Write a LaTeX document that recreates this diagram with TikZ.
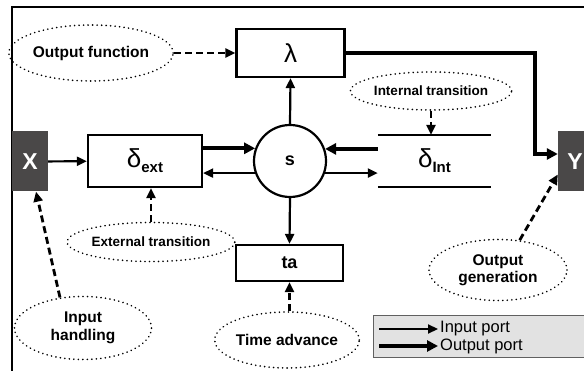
\documentclass[tikz,border=0pt]{standalone}
\usepackage{fontspec}
\setmainfont{Liberation Sans}
\usetikzlibrary{arrows.meta,shapes.geometric}
\definecolor{portgray}{RGB}{74,72,72}
\definecolor{legendfill}{RGB}{226,226,226}
\definecolor{legendedge}{RGB}{96,96,96}
\begin{document}
\begin{tikzpicture}[x=1pt,y=-1pt,
  box/.style={draw, line width=2.2pt, inner sep=0pt},
  port/.style={fill=portgray, inner sep=0pt, text=white,
    font=\bfseries\fontsize{23}{25}\selectfont},
  inarrow/.style={line width=2.2pt, -{Triangle[length=10pt,width=9pt]}},
  outarrow/.style={line width=4.2pt, -{Triangle[length=11pt,width=11pt]}},
  note/.style={ellipse, draw, line width=1.8pt, line cap=round,
    dash pattern=on 0.01pt off 4.5pt, inner sep=0pt, align=center,
    font=\bfseries\fontsize{15.5}{17.5}\selectfont},
  smallnote/.style={note, font=\bfseries\fontsize{13.5}{15}\selectfont},
  notearrow/.style={line width=2.8pt, dash pattern=on 7pt off 4pt,
    -{Triangle[length=10pt,width=9pt]}}
]
\useasboundingbox (0,0) rectangle (584,371);

% outer frame (only top and left edges are in view)
\coordinate (frameTR) at (600,7);
\coordinate (frameTL) at (12,7);
\coordinate (frameBL) at (12,380);
\draw[line width=2.6pt] (frameTR) -- (frameTL) -- (frameBL);

% ports
\node[port, minimum width=36, minimum height=60] (X) at (30,161.5) {X};
\node[port, minimum width=34, minimum height=60] (Y) at (575,161.5) {Y};

% model functions
\node[box, minimum width=114, minimum height=52] (dext) at (145,161)
  {\fontsize{26}{28}\selectfont δ\raisebox{-5pt}{\bfseries\fontsize{15}{17}\selectfont ext}};
\node[box, minimum width=108, minimum height=48] (lam) at (290.5,53)
  {\fontsize{26}{28}\selectfont λ};
\node[box, circle, minimum size=72] (s) at (290,161)
  {\bfseries\fontsize{18}{20}\selectfont s};
\node[inner sep=0pt, minimum width=113, minimum height=52] (dint) at (434.5,161)
  {\fontsize{26}{28}\selectfont δ\raisebox{-5pt}{\bfseries\fontsize{15}{17}\selectfont Int}};
\draw[line width=2.2pt] (dint.north west) -- (dint.north east);
\draw[line width=2.2pt] (dint.south west) -- (dint.south east);
\node[box, minimum width=107, minimum height=36] (ta) at (289.5,263)
  {\bfseries\fontsize{18}{20}\selectfont ta};

% state connections
\draw[inarrow] (X) -- (dext);
\draw[outarrow] (dext.east |- s.160.5) -- (s.160.5);
\draw[inarrow] (s.199.5) -- (s.199.5 -| dext.east);
\draw[outarrow] (s.19.5 -| dint.west) -- (s.19.5);
\draw[inarrow] (s.-19.5) -- (s.-19.5 -| dint.west);
\draw[inarrow] (s.north) -- (lam.south);
\draw[inarrow] (s.south) -- (ta.north);
\coordinate (outTurn) at (535,53);
\draw[outarrow] (lam.east) -- (outTurn) |- ([yshift=7.5pt]Y.west);

% annotations
\node[note, minimum width=136, minimum height=56] (ofn) at (91,53) {Output function};
\node[smallnote, minimum width=152, minimum height=38] (itr) at (431,91) {Internal transition};
\node[smallnote, minimum width=154, minimum height=39] (etr) at (151,242) {External transition};
\node[note, minimum width=137, minimum height=63] (inh) at (83,328) {Input\\handling};
\node[note, minimum width=137, minimum height=56] (tadv) at (287,340) {Time advance};
\node[note, minimum width=138, minimum height=61] (ogen) at (498,270) {Output\\generation};

\draw[notearrow] (ofn.east) -- (lam.west);
\draw[notearrow] (itr.south) -- (itr.south |- dint.north);
\draw[notearrow] (etr.north) -- (etr.north |- dext.south);
\draw[notearrow] (inh.127) -- ([xshift=6pt]X.south);
\draw[notearrow] (ta.south |- tadv.north) -- (ta.south);
\draw[notearrow] (ogen.54) -- ([yshift=-13pt]Y.west);

% legend
\node[draw=legendedge, fill=legendfill, line width=1pt, inner sep=0pt,
  minimum width=240, minimum height=42, anchor=north west] (legend) at (373,315) {};
\node[anchor=west, inner sep=0pt, font=\fontsize{16.5}{18}\selectfont] (inlbl) at (440,329) {Input port};
\node[anchor=west, inner sep=0pt, font=\fontsize{16.5}{18}\selectfont] (outlbl) at (440,346) {Output port};
\coordinate (inStart) at (379,329);
\coordinate (outStart) at (379,346);
\draw[inarrow, shorten >=2pt] (inStart) -- (inlbl.west);
\draw[outarrow, shorten >=2pt] (outStart) -- (outlbl.west);
\end{tikzpicture}
\end{document}
